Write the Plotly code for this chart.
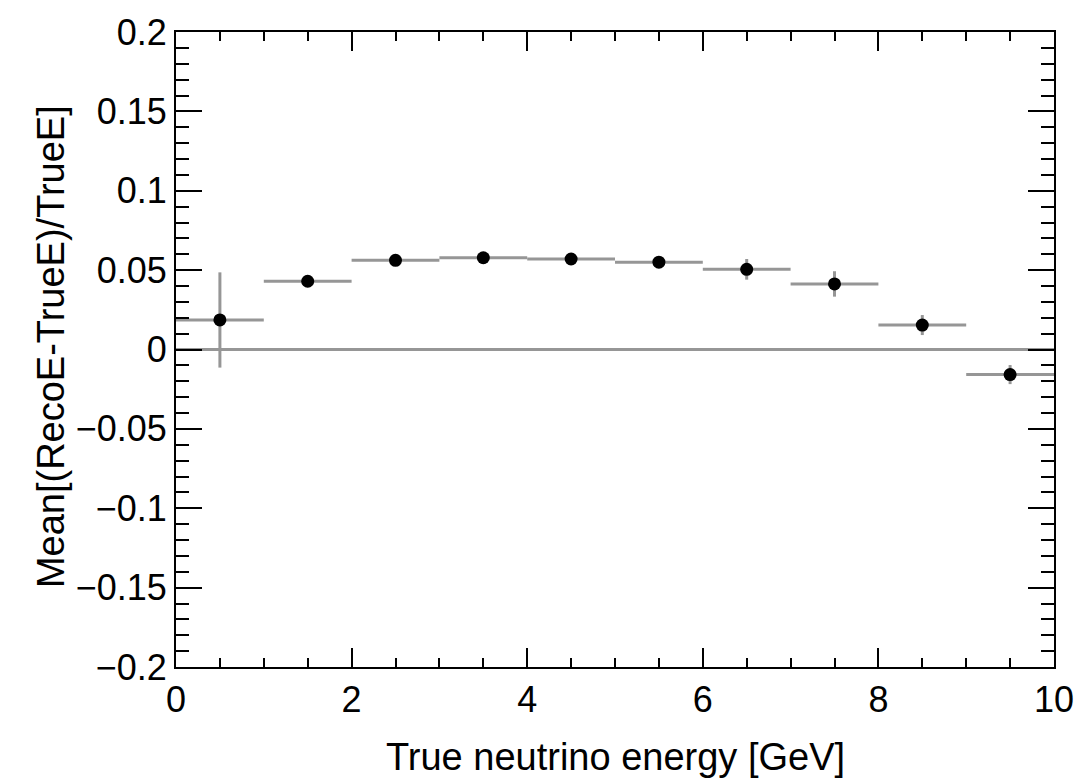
import plotly.graph_objects as go

# Data
bin_centers = [0.5, 1.5, 2.5, 3.5, 4.5, 5.5, 6.5, 7.5, 8.5, 9.5]
bin_half_width = [0.5] * 10
mean_bias = [0.0186, 0.0430, 0.0562, 0.0578, 0.0570, 0.0550, 0.0505, 0.0413, 0.0154, -0.0158]
bias_err = [0.0300, 0.0030, 0.0030, 0.0030, 0.0030, 0.0035, 0.0065, 0.0080, 0.0063, 0.0060]

x_tickvals = [0, 2, 4, 6, 8, 10]
x_ticktext = ["0", "2", "4", "6", "8", "10"]
y_tickvals = [0.2, 0.15, 0.1, 0.05, 0, -0.05, -0.1, -0.15, -0.2]
y_ticktext = ["0.2", "0.15", "0.1", "0.05", "0", "\u22120.05", "\u22120.1", "\u22120.15", "\u22120.2"]

x_title = "True neutrino energy [GeV]"
y_title = "Mean[(RecoE-TrueE)/TrueE]"

FONT = "Liberation Sans, Arial, Helvetica, sans-serif"
GRAY = "#969696"

fig = go.Figure()
fig.add_trace(go.Scatter(
    x=bin_centers, y=mean_bias, mode="markers",
    marker=dict(color="black", size=13, symbol="circle"),
    error_x=dict(type="data", array=bin_half_width, symmetric=True,
                 color=GRAY, thickness=3, width=0),
    error_y=dict(type="data", array=bias_err, symmetric=True,
                 color=GRAY, thickness=3, width=0),
    showlegend=False,
))

axis_common = dict(
    showline=True, linecolor="black", linewidth=2, mirror="ticks",
    ticks="inside", tickcolor="black", tickwidth=2,
    showgrid=False,
    tickfont=dict(family=FONT, size=36, color="black"),
)

fig.update_xaxes(
    range=[0, 10], tickvals=x_tickvals, ticktext=x_ticktext,
    ticklen=19, zeroline=False,
    minor=dict(dtick=0.5, tick0=0, ticks="inside", ticklen=9,
               tickcolor="black", tickwidth=2, showgrid=False),
    **axis_common,
)
fig.update_yaxes(
    range=[-0.2, 0.2], tickvals=y_tickvals, ticktext=y_ticktext,
    ticklen=26, zeroline=True, zerolinecolor=GRAY, zerolinewidth=3,
    minor=dict(dtick=0.01, tick0=0, ticks="inside", ticklen=13,
               tickcolor="black", tickwidth=2, showgrid=False),
    **axis_common,
)

fig.add_annotation(
    text=x_title, xref="paper", yref="paper", x=0.5, y=-0.1417,
    xanchor="center", yanchor="middle", showarrow=False,
    font=dict(family=FONT, size=38, color="black"),
)
fig.add_annotation(
    text=y_title, xref="paper", yref="paper", x=-0.1422, y=0.504,
    xanchor="center", yanchor="middle", textangle=-90, showarrow=False,
    font=dict(family=FONT, size=38, color="black"),
)

fig.update_layout(
    width=1086, height=784,
    margin=dict(l=176, r=24, t=32, b=117),
    plot_bgcolor="white", paper_bgcolor="white",
)

fig.write_html("out.html")
